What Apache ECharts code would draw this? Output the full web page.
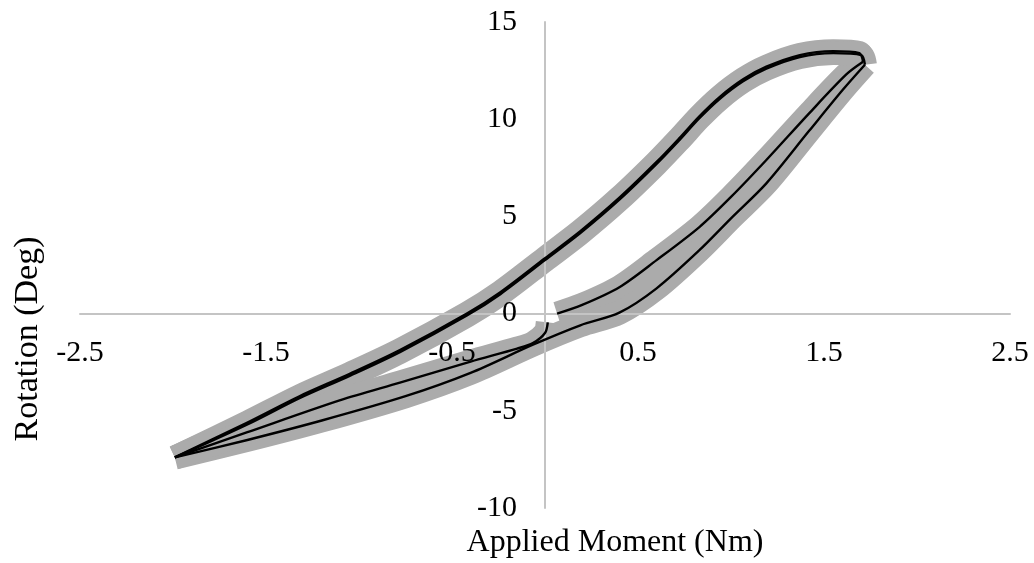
<!DOCTYPE html>
<html><head><meta charset="utf-8">
<script src="https://cdn.jsdelivr.net/npm/echarts@6/dist/echarts.min.js"></script>
<style>html,body{margin:0;padding:0;background:#fff}#c{width:1034px;height:563px}</style>
</head><body><div id="c"></div>
<script>
// Axis ranges / ticks
const xRange = [-2.5, 2.5], xStep = 1;
const yRange = [-10, 15], yStep = 5;
const xTitle = 'Applied Moment (Nm)';
const yTitle = 'Rotation (Deg)';

// Measured cycles, [moment (Nm), rotation (deg)]
const loading1 = [
  [0.065,0.0],[0.2,0.45],[0.4,1.36],[0.6,2.75],[0.83,4.45],[1.0,6.0],[1.19,7.9],
  [1.42,10.3],[1.62,12.3],[1.71,12.95]
];
const unloading1 = [
  [1.71,12.95],[1.69,13.4],[1.55,13.5],[1.37,13.3],[1.19,12.7],[1.065,12.05],[0.94,11.15],
  [0.83,10.15],[0.72,9.0],[0.6,7.8],[0.4,5.96],[0.19,4.24],[0.0,2.85],[-0.24,1.1],[-0.42,0.0],
  [-0.78,-1.88],[-1.05,-3.1],[-1.32,-4.25],[-1.6,-5.6],[-1.99,-7.4]
];
const loading2 = [
  [-1.99,-7.4],[-1.6,-6.5],[-1.2,-5.5],[-0.75,-4.25],[-0.4,-3.05],[-0.065,-1.6],
  [0.19,-0.6],[0.4,0.05],[0.6,1.3],[0.83,3.26],[1.0,4.9],[1.19,6.7],[1.42,9.4],[1.6,11.5],[1.72,12.8]
];
const unloading2 = [
  [1.72,12.8],[1.7,13.3],[1.55,13.4],[1.37,13.2],[1.19,12.6],[1.065,11.95],[0.94,11.05],
  [0.83,10.05],[0.72,8.9],[0.6,7.7],[0.4,5.86],[0.19,4.14],[0.0,2.75],[-0.24,1.0],[-0.42,-0.1],
  [-0.78,-1.98],[-1.05,-3.2],[-1.32,-4.35],[-1.6,-5.7],[-1.99,-7.4]
];
const loading3 = [
  [-1.99,-7.4],[-1.6,-6.1],[-1.1,-4.45],[-0.78,-3.55],[-0.4,-2.47],[-0.15,-1.8],
  [-0.065,-1.52],[0.0,-1.0],[0.015,-0.45]
];
const cycles = [loading1, unloading1, loading2, unloading2, loading3];

const chart = echarts.init(document.getElementById('c'));
const serif = 'Liberation Serif';
const grid = { left: 80, right: 24, top: 22, bottom: 55 };
const gw = 1034 - grid.left - grid.right, gh = 563 - grid.top - grid.bottom;
// axes cross at zero: shift axes from grid edge to the zero position
const xAxisOffset = -gh * (0 - yRange[0]) / (yRange[1] - yRange[0]);
const yAxisOffset = -gw * (0 - xRange[0]) / (xRange[1] - xRange[0]);

const axisCommon = {
  type: 'value', z: 1,
  axisLine: { onZero: false, lineStyle: { color: '#c4c4c4', width: 2 } },
  axisTick: { show: false }, splitLine: { show: false }
};
const series = [];
cycles.forEach((d, i) => series.push({
  name: 'band' + i, type: 'line', data: d, showSymbol: false, smooth: 0.3, z: 0, silent: true,
  lineStyle: { color: '#ababab', width: 24, cap: 'butt', join: 'round' }
}));
cycles.forEach((d, i) => series.push({
  name: 'cycle' + i, type: 'line', data: d, showSymbol: false, smooth: 0.3, z: 3, silent: true,
  lineStyle: { color: '#000', width: 2.4, join: 'round' }
}));

chart.setOption({
  animation: false,
  grid: Object.assign({ containLabel: false }, grid),
  xAxis: Object.assign({}, axisCommon, {
    min: xRange[0], max: xRange[1], interval: xStep, offset: xAxisOffset,
    axisLabel: { fontFamily: serif, fontSize: 30, color: '#000', margin: 25 }
  }),
  yAxis: Object.assign({}, axisCommon, {
    min: yRange[0], max: yRange[1], interval: yStep, offset: yAxisOffset,
    axisLabel: { fontFamily: serif, fontSize: 30, color: '#000', margin: 28 }
  }),
  graphic: [
    { type: 'text', x: 615, y: 543, z: 10,
      style: { text: xTitle, font: '32px "Liberation Serif"', fill: '#000', align: 'center', verticalAlign: 'middle' } },
    { type: 'text', x: 28, y: 339, rotation: Math.PI / 2, z: 10,
      style: { text: yTitle, font: '34px "Liberation Serif"', fill: '#000', align: 'center', verticalAlign: 'middle' } }
  ],
  series
});
</script></body></html>
